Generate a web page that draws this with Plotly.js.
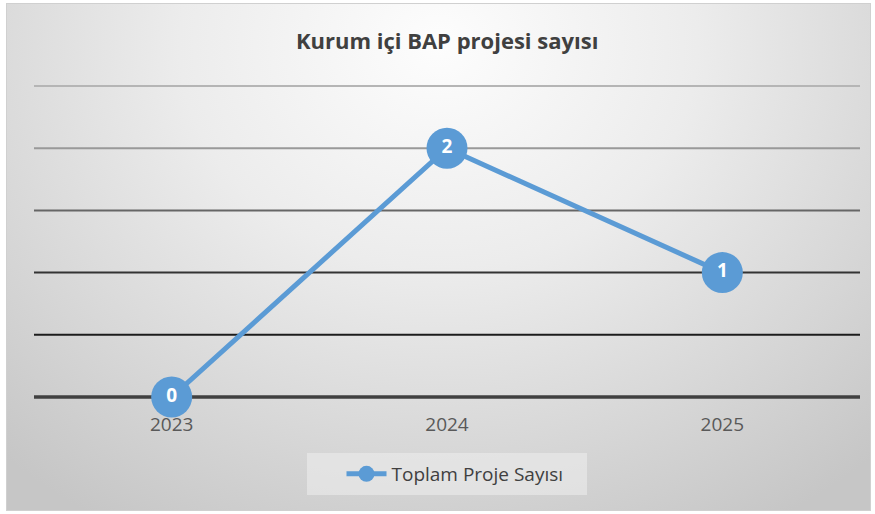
<!DOCTYPE html>
<html>
<head>
<meta charset="utf-8">
<script src="https://cdn.plot.ly/plotly-3.0.1.min.js"></script>
<style>
  html, body { margin: 0; padding: 0; background: #ffffff; }
  #wrap { position: relative; width: 875px; height: 514px; }
  #bg { position: absolute; left: 6px; top: 3px; width: 863px; height: 506px;
        border: 1px solid #d0d0d0;
        background: radial-gradient(ellipse 75% 110% at 50% 8%, #fdfdfd 0%, #ececec 40%, #d6d6d6 75%, #c6c6c6 100%); }
  #chart { position: absolute; left: 0; top: 0; width: 875px; height: 514px; }
</style>
</head>
<body>
<div id="wrap"><div id="bg"></div><div id="chart"></div></div>
<script>
const years = ['2023', '2024', '2025'];
const projectCounts = [0, 2, 1];
const seriesName = 'Toplam Proje Sayısı';
const chartTitle = 'Kurum içi BAP projesi sayısı';
const gridValues = [0.5, 1, 1.5, 2, 2.5];
const gridColors = ['#1c1c1c', '#333333', '#666666', '#999999', '#b5b5b5'];
const yMax = 2.5;

const blue = '#5b9bd5';

const shapes = gridValues.map((v, i) => ({
  type: 'line', xref: 'paper', yref: 'paper', x0: 0, x1: 1, y0: v / yMax, y1: v / yMax,
  line: { color: gridColors[i], width: 2 }, layer: 'below'
}));
shapes.push({
  type: 'line', xref: 'paper', yref: 'paper', x0: 0, x1: 1, y0: 0, y1: 0,
  line: { color: '#404040', width: 3.5 }, layer: 'below'
});
// legend box
shapes.push({
  type: 'rect', xref: 'paper', yref: 'paper',
  x0: (307 - 34) / 826, x1: (587 - 34) / 826,
  y0: (397 - 495) / 311, y1: (397 - 453) / 311,
  fillcolor: 'rgba(238,238,238,0.55)', line: { width: 0 }, layer: 'below'
});

const trace = {
  x: years, y: projectCounts, type: 'scatter', mode: 'lines+markers+text',
  name: seriesName,
  line: { color: blue, width: 5 },
  marker: { color: blue, size: 41, line: { width: 0 } },
  text: projectCounts.map(String),
  textposition: 'middle center',
  textfont: { family: 'Open Sans, sans-serif', size: 19, color: '#ffffff', weight: 'bold' },
  cliponaxis: false
};

const layout = {
  width: 875, height: 514,
  paper_bgcolor: 'rgba(0,0,0,0)', plot_bgcolor: 'rgba(0,0,0,0)',
  margin: { l: 34, r: 15, t: 86, b: 117 },
  title: {
    text: '<b>' + chartTitle + '</b>',
    font: { family: 'Open Sans, sans-serif', size: 22, color: '#404040' },
    x: 0.511, xanchor: 'center', y: 1 - 41 / 514, yanchor: 'middle', yref: 'container'
  },
  xaxis: {
    type: 'category', range: [-0.5, 2.5], showgrid: false, zeroline: false,
    showline: false, ticks: '', ticklabelstandoff: 14,
    tickfont: { family: 'Open Sans, sans-serif', size: 19, color: '#595959' }
  },
  yaxis: {
    range: [0, yMax], showgrid: false, zeroline: false, showline: false,
    showticklabels: false, ticks: '', fixedrange: true
  },
  showlegend: true,
  legend: {
    orientation: 'h', x: 0.5 + 8 / 826, xanchor: 'center', y: (397 - 474) / 311, yanchor: 'middle',
    bgcolor: 'rgba(0,0,0,0)',
    font: { family: 'Open Sans, sans-serif', size: 19, color: '#404040' },
    itemwidth: 40
  },
  shapes: shapes
};

Plotly.newPlot('chart', [trace], layout, { displayModeBar: false, staticPlot: true });
</script>
</body>
</html>
